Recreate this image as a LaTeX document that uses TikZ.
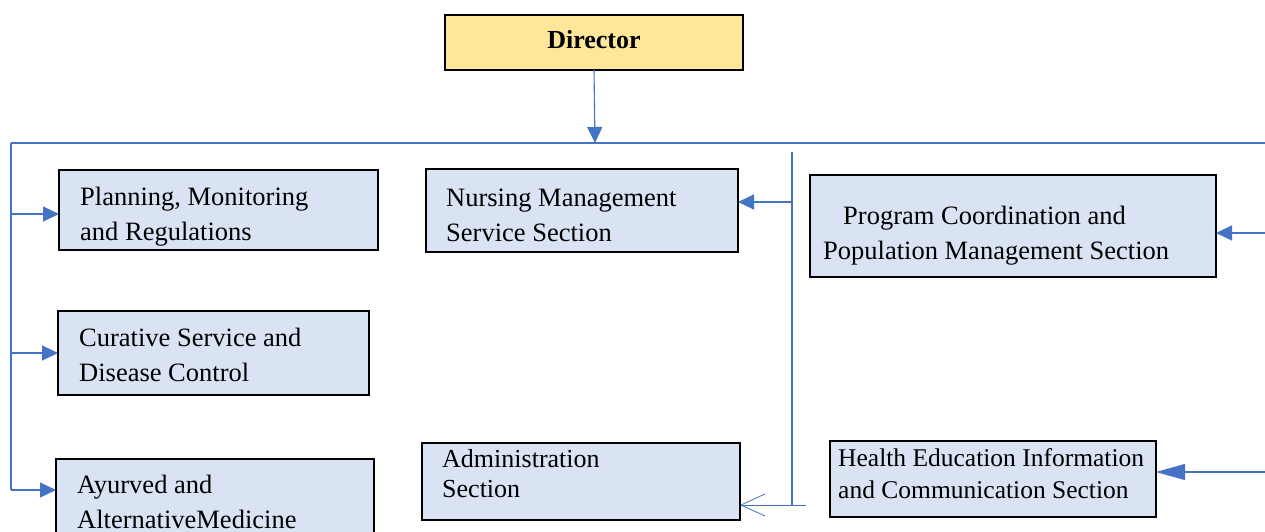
\documentclass[tikz,border=0pt]{standalone}
\usepackage{fontspec}
\setmainfont{Liberation Serif}
\usetikzlibrary{arrows.meta}
\definecolor{linkblue}{HTML}{4472C4}
\definecolor{boxfill}{HTML}{DAE3F3}
\definecolor{headfill}{HTML}{FFE699}
\tikzset{
  box/.style={draw=black, line width=1.3pt, fill=boxfill, inner sep=0pt, outer sep=0pt, anchor=north west},
  headbox/.style={box, fill=headfill},
  % multi-line labels are placed by the baseline of their last line
  label/.style={anchor=base west, align=left, inner sep=0pt, font=\fontsize{26.5}{34.5}\selectfont},
  link/.style={draw=linkblue, line width=1.1pt},
  arr/.style={link, -{Triangle[length=16pt,width=15pt]}},
  bigarr/.style={link, -{Triangle[length=29pt,width=16pt]}},
  openarr/.style={link, line width=0.8pt, -{Straight Barb[length=24pt,width=22pt,line width=0.8pt]}}
}
\begin{document}
\begin{tikzpicture}[x=1pt,y=-1pt]
\useasboundingbox[fill=white] (0,0) rectangle (1265,532);

% boxes
\node[headbox, minimum width=298pt, minimum height=55pt] (dir) at (445,15) {};
\node[font=\fontsize{26}{30}\selectfont\bfseries] (dirtxt) at ([yshift=3pt]dir.center) {Director};
\node[box, minimum width=319pt, minimum height=80pt] (plan) at (59,170) {};
\node[box, minimum width=312pt, minimum height=83pt] (nurs) at (426,169) {};
\node[box, minimum width=311pt, minimum height=84pt] (cur) at (58,311) {};
\node[box, minimum width=318pt, minimum height=101pt] (ayu) at (56,459) {};
\node[box, minimum width=318pt, minimum height=77pt] (adm) at (422,443) {};
\node[box, minimum width=406pt, minimum height=102pt] (prog) at (810,175) {};
\node[box, minimum width=326pt, minimum height=76pt] (heal) at (830,441) {};

% texts
\node[label] (plantxt) at (80,240) {Planning, Monitoring\\and Regulations};
\node[label] (nurstxt) at (446,241) {Nursing Management\\Service Section};
\node[label] (curtxt) at (79,381) {Curative Service and\\Disease Control};
\node[label] (ayutxt) at (77,528) {Ayurved and\\AlternativeMedicine};
\node[label, font=\fontsize{26}{30}\selectfont] (admtxt) at (442,497) {Administration\\Section};
\node[label] (progtxt) at (823,259) {\hspace{20pt}Program Coordination and\\Population Management Section};
\node[label, font=\fontsize{25.5}{32}\selectfont] (healtxt) at (838,498) {Health Education Information\\and Communication Section};

% bus lines
\coordinate (busL) at (11,143);
\coordinate (busR) at (1265,143);
\coordinate (busM) at (595,143);
\coordinate (leftEnd) at (11,490);
\coordinate (midTop) at (792,152);
\coordinate (midBot) at (792,505);
\coordinate (admFrom) at (806,505);
\coordinate (progFrom) at (1265,233);
\coordinate (healFrom) at (1265,472);

\draw[link] (busL) -- (busR);
\draw[link] (busL) -- (leftEnd);
\draw[link] (midTop) -- (midBot);

% connectors
\draw[arr] (dir.south) -- (busM);
\draw[arr] (11,214) -- (plan.west |- 0,214);
\draw[arr] (11,353) -- (cur.west |- 0,353);
\draw[arr] (leftEnd) -- (ayu.west |- leftEnd);
\draw[arr] (792,202) -- (nurs.east |- 0,202);
\draw[openarr] (admFrom) -- (adm.east |- admFrom);
\draw[arr] (progFrom) -- (prog.east |- progFrom);
\draw[bigarr] (healFrom) -- (heal.east |- healFrom);
\end{tikzpicture}
\end{document}
